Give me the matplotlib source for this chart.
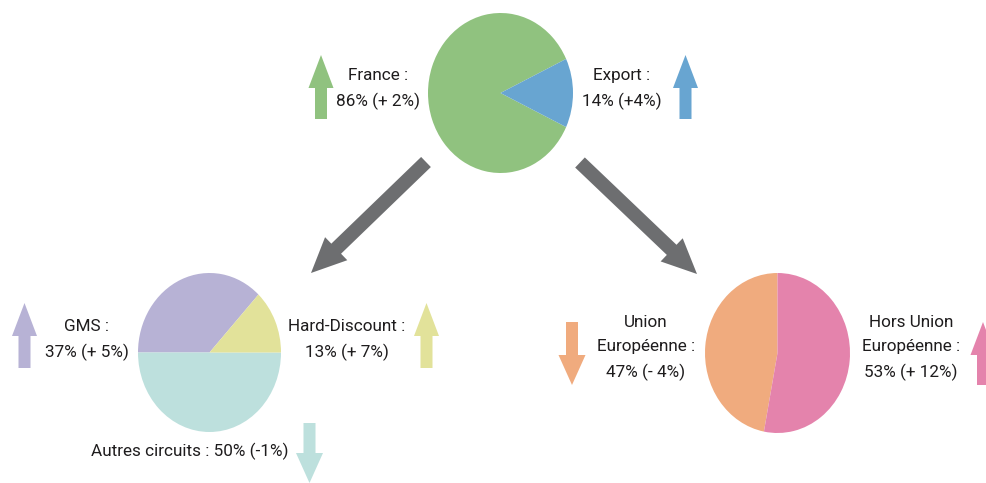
import matplotlib
matplotlib.use("Agg")
import matplotlib.pyplot as plt
from matplotlib.patches import FancyArrow

plt.rcParams['font.family'] = ['Roboto', 'DejaVu Sans']

# destination des ventes
top_names = ["France", "Export"]
top_values = [86, 14]
top_changes = ["+ 2%", "+4%"]
top_colors = ["#90c27f", "#68a5d1"]

# circuits France (ordre du camembert, sens anti-horaire)
fr_names = ["GMS", "Autres circuits", "Hard-Discount"]
fr_values = [37, 50, 13]
fr_changes = ["+ 5%", "-1%", "+ 7%"]
fr_colors = ["#b7b2d5", "#bde0dd", "#e2e29a"]

# export
ex_names = ["Union\nEuropéenne", "Hors Union\nEuropéenne"]
ex_values = [47, 53]
ex_changes = ["- 4%", "+ 12%"]
ex_colors = ["#f0ab7e", "#e483ac"]

W, H = 986, 483
txt = "#1e1c1d"
grey = "#6d6e70"
fs = 12.3

fig = plt.figure(figsize=(W / 100, H / 100), dpi=100)
ax = fig.add_axes([0, 0, 1, 1])
ax.set_xlim(0, W)
ax.set_ylim(H, 0)
ax.axis("off")


def pie_at(cx, cy, rx, ry, vals, cols, start):
    pa = fig.add_axes([(cx - rx) / W, (H - cy - ry) / H, 2 * rx / W, 2 * ry / H])
    pa.pie(vals, colors=cols, startangle=start, counterclock=True,
           wedgeprops=dict(linewidth=0))
    pa.set_xlim(-1, 1)
    pa.set_ylim(-1, 1)
    pa.set_aspect("auto")
    pa.axis("off")


def small_arrow(x, ytop, ybot, change, col):
    up = change.strip().startswith("+")
    if up:
        a = FancyArrow(x, ybot, 0, ytop - ybot, width=12, head_width=25,
                       head_length=33, length_includes_head=True, color=col, lw=0)
    else:
        a = FancyArrow(x, ytop, 0, ybot - ytop, width=12, head_width=27,
                       head_length=30, length_includes_head=True, color=col, lw=0)
    ax.add_patch(a)


def label(x, y, name, val, chg):
    ax.text(x, y, f"{name} :\n{val}% ({chg})", ha="center", va="center",
            fontsize=fs, color=txt, linespacing=1.75)


pie_at(500.5, 93, 72.5, 80, top_values, top_colors, top_values[1] * 1.8)
pie_at(209.5, 352.5, 71.5, 79.5, fr_values, fr_colors, fr_values[2] * 3.6)
pie_at(777.5, 353, 72.5, 80, ex_values, ex_colors, 90)

# grosses fleches grises
ax.add_patch(FancyArrow(426, 162, 311 - 426, 273 - 162, width=14, head_width=32,
                        head_length=35, length_includes_head=True, color=grey, lw=0))
ax.add_patch(FancyArrow(580, 162.5, 697 - 580, 274 - 162.5, width=14, head_width=32,
                        head_length=35, length_includes_head=True, color=grey, lw=0))

# haut
label(378, 89, top_names[0], top_values[0], top_changes[0])
label(622, 89, top_names[1], top_values[1], top_changes[1])
small_arrow(321, 55, 119, top_changes[0], top_colors[0])
small_arrow(685.5, 55, 119, top_changes[1], top_colors[1])

# France
label(86.5, 340, fr_names[0], fr_values[0], fr_changes[0])
label(347, 340, fr_names[2], fr_values[2], fr_changes[2])
ax.text(189.5, 451, f"{fr_names[1]} : {fr_values[1]}% ({fr_changes[1]})",
        ha="center", va="center", fontsize=fs, color=txt)
small_arrow(24.5, 303, 368, fr_changes[0], fr_colors[0])
small_arrow(426.5, 303, 368, fr_changes[2], fr_colors[2])
small_arrow(309.5, 423, 483, fr_changes[1], fr_colors[1])

# export
label(646, 348, ex_names[0], ex_values[0], ex_changes[0])
label(911, 348, ex_names[1], ex_values[1], ex_changes[1])
small_arrow(572, 322, 385, ex_changes[0], ex_colors[0])
small_arrow(983, 322, 385, ex_changes[1], ex_colors[1])

fig.savefig("out.png", dpi=100)
